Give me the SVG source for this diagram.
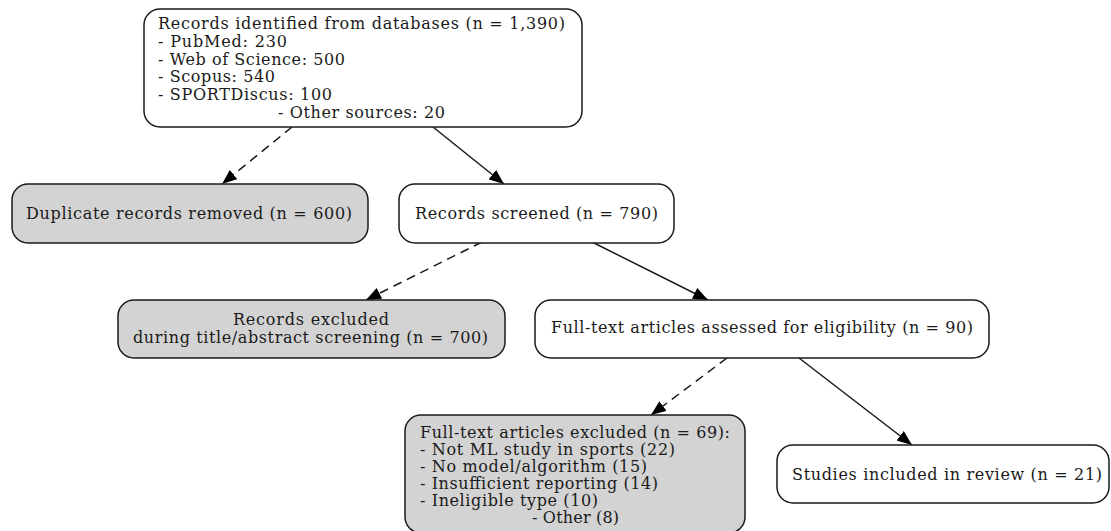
<svg xmlns="http://www.w3.org/2000/svg" width="1111" height="531" viewBox="0 0 1111 531">
<defs>
<style>
.box{stroke:#1a1a1a;stroke-width:1.5;fill:#fff}
.gray{fill:#d3d3d3}
text{font-family:"DejaVu Serif",serif;font-size:16px;fill:#1a1a1a}
.e{stroke:#1a1a1a;stroke-width:1.5;fill:none}
.d{stroke-dasharray:9,6}
</style>
<marker id="ah" viewBox="0 0 15 12" refX="15" refY="6" markerWidth="15" markerHeight="12" markerUnits="userSpaceOnUse" orient="auto">
<path d="M0,0 L15,6 L0,12 Z" fill="#000"/>
</marker>
</defs>
<rect width="1111" height="531" fill="#fff"/>
<g id="connectors">
<line class="e d" x1="292" y1="127" x2="222" y2="184" marker-end="url(#ah)"/>
<line class="e" x1="433" y1="127" x2="504" y2="184" marker-end="url(#ah)"/>
<line class="e d" x1="482" y1="242" x2="366" y2="300" marker-end="url(#ah)"/>
<line class="e" x1="592" y1="242" x2="708" y2="300" marker-end="url(#ah)"/>
<line class="e d" x1="727" y1="358" x2="651" y2="415" marker-end="url(#ah)"/>
<line class="e" x1="799" y1="358" x2="912" y2="445" marker-end="url(#ah)"/>
</g>
<g id="n_identified">
<rect class="box" x="144" y="9" width="438" height="118" rx="16"/>
<text x="158" y="28.5" textLength="407">Records identified from databases (n = 1,390)</text>
<text x="158" y="46.5" textLength="129">- PubMed: 230</text>
<text x="158" y="64.5" textLength="187">- Web of Science: 500</text>
<text x="158" y="82" textLength="117">- Scopus: 540</text>
<text x="158" y="99.5" textLength="174">- SPORTDiscus: 100</text>
<text x="278" y="117.5" textLength="167">- Other sources: 20</text>
</g>
<g id="n_duplicates">
<rect class="box gray" x="12" y="184" width="356" height="59" rx="16"/>
<text x="26" y="219" textLength="326">Duplicate records removed (n = 600)</text>
</g>
<g id="n_screened">
<rect class="box" x="399" y="184" width="275" height="59" rx="16"/>
<text x="415" y="219" textLength="243">Records screened (n = 790)</text>
</g>
<g id="n_excluded_ta">
<rect class="box gray" x="118" y="300" width="387" height="58" rx="16"/>
<text x="233" y="325" textLength="156">Records excluded</text>
<text x="133" y="343" textLength="355">during title/abstract screening (n = 700)</text>
</g>
<g id="n_fulltext">
<rect class="box" x="535" y="300" width="454" height="58" rx="16"/>
<text x="551" y="333" textLength="422">Full-text articles assessed for eligibility (n = 90)</text>
</g>
<g id="n_excluded_ft">
<rect class="box gray" x="405" y="415" width="340" height="118" rx="16"/>
<text x="420" y="437.5" textLength="310">Full-text articles excluded (n = 69):</text>
<text x="420" y="454.5" textLength="255">- Not ML study in sports (22)</text>
<text x="420" y="471.5" textLength="227">- No model/algorithm (15)</text>
<text x="420" y="488.5" textLength="238">- Insufficient reporting (14)</text>
<text x="420" y="505.5" textLength="178">- Ineligible type (10)</text>
<text x="532" y="522.5" textLength="87">- Other (8)</text>
</g>
<g id="n_included">
<rect class="box" x="777" y="445" width="332" height="58" rx="16"/>
<text x="792" y="480" textLength="310">Studies included in review (n = 21)</text>
</g>
</svg>
